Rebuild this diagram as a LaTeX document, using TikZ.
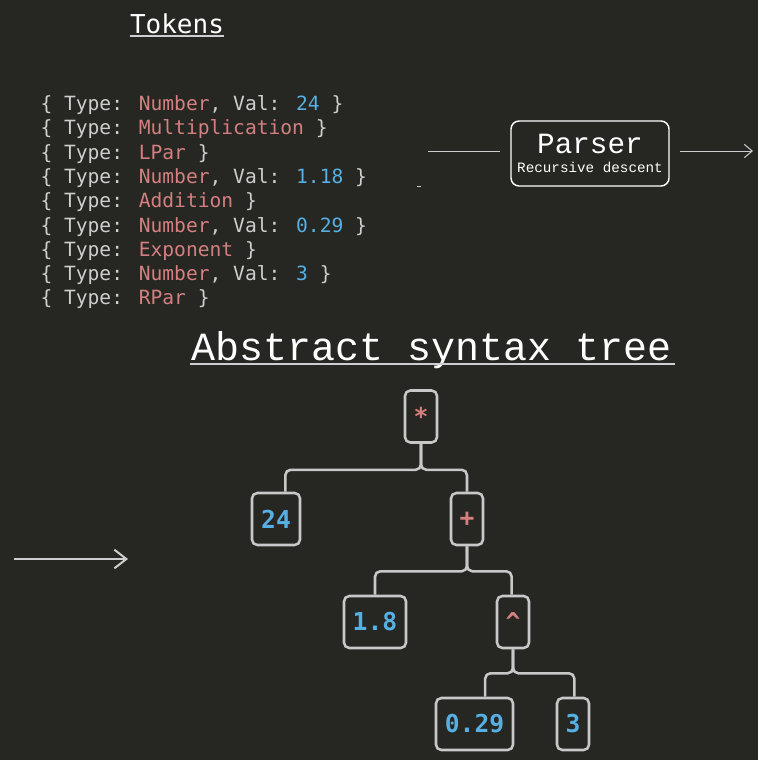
\documentclass[tikz,border=0pt]{standalone}
\usepackage{fontspec}
\usetikzlibrary{arrows.meta}
\newfontfamily\codefont{DejaVu Sans Mono}
\newfontfamily\typefont{Liberation Mono}
\definecolor{bgdark}{RGB}{38,38,34}
\definecolor{txtgray}{RGB}{206,206,206}
\definecolor{tokred}{RGB}{212,128,128}
\definecolor{tokblue}{RGB}{86,176,227}
\definecolor{boxgray}{RGB}{200,200,200}

\tikzset{every picture/.style={line width=0.75pt}}
\tikzset{
  tokline/.style={anchor=base west, inner sep=0pt, text=txtgray, font=\codefont\fontsize{14.7}{18}\selectfont},
  treebox/.style={draw=boxgray, line width=1.9pt, rounded corners=4pt, inner sep=0pt, minimum height=39pt,
                  font=\codefont\bfseries\fontsize{18.5}{20}\selectfont},
  treeedge/.style={draw=boxgray, line width=1.9pt, rounded corners=4pt},
}
\newcommand{\rd}[1]{\textcolor{tokred}{#1}}
\newcommand{\bl}[1]{\textcolor{tokblue}{#1}}

\begin{document}
\begin{tikzpicture}[x=0.75pt,y=0.75pt,yscale=-1,xscale=1]
\fill[bgdark] (0,0) rectangle (758,760);
\useasboundingbox (0,0) rectangle (758,760);

% Tokens heading
\node (tokhead) [inner sep=0pt, text=white, font=\codefont\fontsize{19.5}{22}\selectfont] at (177,24) {Tokens};
\draw [txtgray, line width=1pt] (tokhead.south west |- 0,36) -- (tokhead.south east |- 0,36);

% token list
\node (tok1) [tokline] at (40,110.5) {\{ Type: \rd{Number}, Val: \bl{24} \}};
\node (tok2) [tokline] at (40,134.8) {\{ Type: \rd{Multiplication} \}};
\node (tok3) [tokline] at (40,159.1) {\{ Type: \rd{LPar} \}};
\node (tok4) [tokline] at (40,183.4) {\{ Type: \rd{Number}, Val: \bl{1.18} \}};
\node (tok5) [tokline] at (40,207.7) {\{ Type: \rd{Addition} \}};
\node (tok6) [tokline] at (40,232.0) {\{ Type: \rd{Number}, Val: \bl{0.29} \}};
\node (tok7) [tokline] at (40,256.3) {\{ Type: \rd{Exponent} \}};
\node (tok8) [tokline] at (40,280.6) {\{ Type: \rd{Number}, Val: \bl{3} \}};
\node (tok9) [tokline] at (40,304.9) {\{ Type: \rd{RPar} \}};

% Parser
\node (parser) [draw=white, line width=1.1pt, rounded corners=6pt, text=white, align=center,
  minimum width=118.5pt, minimum height=48.75pt, inner sep=0pt] at (590,153.5)
  {{\typefont\fontsize{22}{22}\selectfont Parser}\\[2pt]{\typefont\fontsize{10.7}{12}\selectfont Recursive descent}};
\coordinate (inl) at (428,151);
\coordinate (inr) at (500,151);
\coordinate (outl) at (680,151);
\coordinate (outr) at (753,151);
\draw [txtgray] (inl) -- (inr);
\draw [txtgray, -{Straight Barb[length=6pt,width=10pt]}] (outl) -- (outr);
\draw [txtgray] (417,186) -- (421,186);

% AST heading
\node (asthead) [inner sep=0pt, text=white, font=\typefont\fontsize{30}{32}\selectfont] at (432,350) {Abstract syntax tree};
\draw [txtgray, line width=1pt] (190,364) -- (675,364);

% arrow into tree
\coordinate (arrs) at (14,559);
\coordinate (arre) at (128,559);
\draw [txtgray, line width=1.5pt, -{Straight Barb[length=9pt,width=14pt]}] (arrs) -- (arre);

% tree
\node (mul)  [treebox, minimum width=24pt,    text=tokred]  at (421,416.5) {*};
\node (n24)  [treebox, minimum width=36pt,    text=tokblue] at (276,519) {24};
\node (plus) [treebox, minimum width=24pt,    text=tokred]  at (467,519) {+};
\node (n18)  [treebox, minimum width=46.5pt,  text=tokblue] at (375,622) {1.8};
\node (pow)  [treebox, minimum width=24pt,    text=tokred]  at (513,622) {\^{}};
\node (n029) [treebox, minimum width=57.75pt, text=tokblue] at (474.5,724) {0.29};
\node (n3)   [treebox, minimum width=24pt,    text=tokblue] at (573,724) {3};

\draw [treeedge] (mul.south) -- ++(0,26) -| ([xshift=7]n24.north);
\draw [treeedge] (mul.south) -- ++(0,26) -| (plus.north);
\draw [treeedge] (plus.south) -- ++(0,25) -| (n18.north);
\draw [treeedge] (plus.south) -- ++(0,25) -| ([xshift=-1]pow.north);
\draw [treeedge] (pow.south) -- ++(0,24) -| ([xshift=8]n029.north);
\draw [treeedge] (pow.south) -- ++(0,24) -| ([xshift=1]n3.north);

\end{tikzpicture}
\end{document}
